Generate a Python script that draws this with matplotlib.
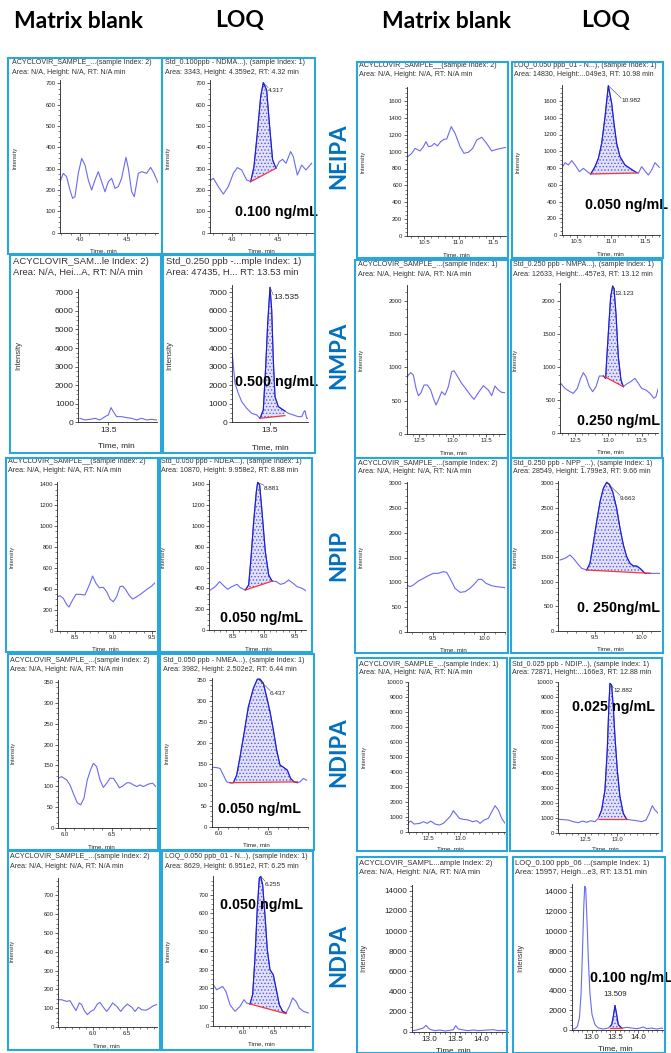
import numpy as np
import matplotlib
matplotlib.use("Agg")
import matplotlib.pyplot as plt
from matplotlib.patches import Rectangle
from matplotlib.ticker import AutoMinorLocator, FormatStrFormatter, FixedLocator

W, H = 671, 1053
plt.rcParams['font.family'] = ['Liberation Sans', 'DejaVu Sans']
plt.rcParams['hatch.linewidth'] = 0.6

# ---------------- headers / labels ----------------
headers = ["Matrix blank", "LOQ", "Matrix blank", "LOQ"]
right_labels = ["NEIPA", "NMPA", "NPIP", "NDIPA", "NDPA"]
left_labels = ["NDMA", "NDBA"]

# ---------------- data (time, min / intensity) ----------------
ndma_blank_t = [3.786, 3.821, 3.857, 3.893, 3.921, 3.946, 3.982, 4.018, 4.054, 4.089, 4.125, 4.161, 4.196, 4.232, 4.268,
                4.304, 4.339, 4.375, 4.411, 4.446, 4.493, 4.518, 4.554, 4.582, 4.625, 4.661, 4.714, 4.757, 4.793, 4.836]
ndma_blank_i = [239, 278, 262, 200, 161, 169, 278, 348, 317, 247, 200, 247, 286, 239, 192,
                239, 255, 208, 216, 255, 353, 302, 192, 169, 278, 286, 278, 306, 278, 234]
ndma_loq_t = [3.772, 3.804, 3.857, 3.911, 3.964, 4.018, 4.061, 4.107, 4.161, 4.204, 4.239, 4.275, 4.311, 4.339,
              4.375, 4.404, 4.439, 4.475, 4.511, 4.546, 4.582, 4.632, 4.661, 4.704, 4.750, 4.796, 4.857]
ndma_loq_i = [245, 255, 216, 181, 216, 278, 305, 294, 247, 239, 309, 466, 638, 703,
              669, 513, 341, 302, 333, 344, 325, 380, 356, 270, 317, 294, 325]

ndba_blank_t = [13.217, 13.267, 13.317, 13.367, 13.417, 13.467, 13.5, 13.527, 13.55, 13.583, 13.633, 13.683,
                13.733, 13.783, 13.833, 13.883, 13.933, 13.983]
ndba_blank_i = [215, 125, 160, 215, 125, 305, 395, 790, 575, 305, 305, 250, 215, 125, 215, 125, 160, 125]
ndba_loq_t = [13.123, 13.15, 13.183, 13.217, 13.267, 13.317, 13.367, 13.4, 13.433, 13.457, 13.477, 13.5, 13.517,
              13.533, 13.55, 13.583, 13.633, 13.683, 13.733, 13.783, 13.817, 13.84, 13.85, 13.867, 13.883]
ndba_loq_i = [3680, 2100, 1560, 1110, 750, 485, 395, 215, 665, 3000, 5330, 7270, 6050,
              3360, 1380, 845, 665, 485, 395, 305, 305, 575, 630, 215, 215]

ndea_blank_t = [8.27, 8.304, 8.348, 8.391, 8.422, 8.457, 8.513, 8.565, 8.63, 8.687, 8.73, 8.774, 8.817, 8.87,
                8.913, 8.957, 9.0, 9.043, 9.087, 9.122, 9.165, 9.209, 9.252, 9.304, 9.37, 9.435, 9.5, 9.543]
ndea_blank_i = [325, 335, 309, 252, 226, 277, 348, 348, 341, 437, 523, 453, 411, 415,
                373, 303, 277, 325, 421, 427, 389, 335, 303, 325, 357, 395, 427, 459]
ndea_loq_t = [8.142, 8.222, 8.291, 8.356, 8.42, 8.489, 8.57, 8.623, 8.703, 8.757, 8.794, 8.837, 8.88, 8.901,
              8.933, 8.971, 9.024, 9.078, 9.131, 9.201, 9.265, 9.329, 9.398, 9.468, 9.532, 9.612, 9.682]
ndea_loq_i = [384, 417, 465, 426, 391, 417, 439, 407, 384, 433, 689, 1041, 1330, 1419,
              1394, 1137, 753, 529, 471, 465, 439, 449, 481, 449, 417, 401, 375]

nmea_blank_t = [5.929, 5.964, 6.018, 6.054, 6.089, 6.132, 6.168, 6.204, 6.239, 6.275, 6.304, 6.339, 6.375, 6.411,
                6.446, 6.482, 6.518, 6.554, 6.582, 6.618, 6.661, 6.696, 6.732, 6.768, 6.804, 6.839, 6.893, 6.939, 6.971]
nmea_blank_i = [119, 123, 115, 103, 83, 60, 55, 71, 115, 140, 155, 147, 115, 97,
                107, 119, 119, 107, 96, 100, 108, 108, 103, 99, 103, 99, 105, 107, 99]
nmea_loq_t = [5.933, 5.983, 6.017, 6.05, 6.083, 6.117, 6.15, 6.183, 6.217, 6.257, 6.3, 6.35, 6.39, 6.417,
              6.45, 6.483, 6.517, 6.55, 6.583, 6.617, 6.65, 6.69, 6.723, 6.757, 6.79, 6.817, 6.85, 6.883]
nmea_loq_i = [142, 141, 139, 123, 107, 105, 105, 123, 167, 223, 286, 330, 352, 352,
              342, 310, 274, 231, 183, 147, 142, 135, 115, 107, 105, 107, 115, 111]

row5_blank_t = [5.495, 5.544, 5.618, 5.667, 5.716, 5.755, 5.804, 5.838, 5.877, 5.922, 5.971, 6.02, 6.069, 6.108,
                6.157, 6.206, 6.245, 6.294, 6.353, 6.412, 6.461, 6.51, 6.574, 6.623, 6.672, 6.721, 6.784, 6.843,
                6.892, 6.941]
row5_blank_i = [145, 145, 136, 140, 110, 87, 128, 119, 87, 66, 83, 92, 122, 131,
                105, 83, 101, 128, 110, 83, 105, 122, 105, 83, 105, 92, 89, 101, 113, 119]
row5_loq_t = [5.511, 5.565, 5.663, 5.717, 5.783, 5.864, 5.946, 6.011, 6.054, 6.109, 6.152, 6.19, 6.228, 6.261,
              6.283, 6.315, 6.353, 6.391, 6.435, 6.489, 6.533, 6.587, 6.641, 6.696, 6.75, 6.804, 6.859, 6.913,
              6.978, 7.06]
row5_loq_i = [219, 192, 210, 183, 112, 77, 103, 139, 121, 116, 166, 362, 629, 789,
              798, 753, 593, 406, 299, 272, 201, 112, 77, 68, 103, 148, 130, 94, 77, 68]

neipa_blank_t = [10.256, 10.315, 10.363, 10.437, 10.485, 10.524, 10.559, 10.607, 10.646, 10.690, 10.739, 10.788,
                 10.827, 10.893, 10.949, 11.022, 11.080, 11.144, 11.207, 11.266, 11.339, 11.41, 11.485, 11.559,
                 11.63, 11.69]
neipa_blank_i = [940, 980, 1039, 1008, 1059, 1118, 1059, 1067, 1098, 1067, 1118, 1146,
                 1150, 1296, 1217, 1059, 980, 992, 1039, 1138, 1170, 1098, 1008, 1027, 1039, 1051]
neipa_loq_t = [10.295, 10.329, 10.378, 10.427, 10.476, 10.539, 10.598, 10.656, 10.705, 10.768, 10.817, 10.866,
               10.915, 10.963, 11.012, 11.046, 11.085, 11.134, 11.207, 11.28, 11.354, 11.402, 11.451, 11.5,
               11.549, 11.598, 11.646, 11.71]
neipa_loq_i = [816, 864, 836, 888, 836, 756, 796, 756, 728, 816, 915, 1095,
               1413, 1783, 1572, 1333, 1095, 935, 836, 796, 756, 736, 816, 764, 716, 776, 864, 808]

nmpa_blank_t = [12.31, 12.335, 12.37, 12.41, 12.45, 12.485, 12.52, 12.57, 12.62, 12.67, 12.71, 12.75, 12.785,
                12.835, 12.885, 12.935, 12.985, 13.02, 13.06, 13.135, 13.21, 13.285, 13.32, 13.385, 13.46,
                13.535, 13.585, 13.635, 13.685, 13.735, 13.785]
nmpa_blank_i = [835, 885, 920, 885, 685, 575, 610, 735, 735, 660, 535, 435, 510,
                635, 585, 710, 935, 950, 885, 760, 660, 560, 520, 620, 725, 660, 575, 720, 660, 625, 620]
nmpa_loq_t = [12.285, 12.35, 12.425, 12.475, 12.535, 12.585, 12.625, 12.665, 12.715, 12.765, 12.815, 12.865,
              12.925, 12.96, 12.975, 13.0, 13.035, 13.065, 13.085, 13.115, 13.15, 13.19, 13.225, 13.275,
              13.335, 13.4, 13.45, 13.5, 13.565, 13.625, 13.685, 13.715, 13.75]
nmpa_loq_i = [754, 678, 628, 603, 678, 829, 915, 854, 703, 628, 703, 864,
              864, 829, 1105, 1507, 2060, 2221, 2186, 1809, 1156, 804, 703, 744, 779, 829, 754, 678, 653, 603,
              528, 553, 678]

npip_blank_t = [9.248, 9.281, 9.313, 9.361, 9.41, 9.458, 9.506, 9.555, 9.603, 9.635, 9.668, 9.716, 9.765,
                9.813, 9.861, 9.91, 9.942, 9.974, 10.016, 10.071, 10.119, 10.2]
npip_blank_i = [944, 910, 944, 1025, 1079, 1133, 1180, 1180, 1214, 1200, 1079, 876, 796,
                809, 876, 978, 1058, 1058, 978, 930, 910, 890]
npip_loq_t = [9.125, 9.179, 9.232, 9.268, 9.311, 9.357, 9.411, 9.446, 9.482, 9.518, 9.554, 9.589, 9.625,
              9.654, 9.689, 9.732, 9.768, 9.804, 9.839, 9.875, 9.911, 9.946, 9.982, 10.036, 10.107, 10.196]
npip_loq_i = [1439, 1473, 1541, 1473, 1371, 1269, 1235, 1371, 1778, 2219, 2626, 2898, 3020,
              2979, 2830, 2491, 2084, 1744, 1507, 1371, 1317, 1317, 1269, 1167, 1167, 1167]

ndipa_blank_t = [12.174, 12.221, 12.274, 12.368, 12.421, 12.484, 12.537, 12.605, 12.674, 12.737, 12.789, 12.842,
                 12.895, 12.937, 12.989, 13.053, 13.132, 13.2, 13.263, 13.316, 13.379, 13.447, 13.516, 13.553,
                 13.605, 13.658, 13.711]
ndipa_blank_i = [558, 714, 513, 558, 670, 558, 714, 513, 446, 558, 781, 1004,
                 1406, 1183, 893, 826, 781, 670, 737, 558, 781, 893, 1451, 1741, 1451, 893, 558]
ndipa_loq_t = [12.103, 12.242, 12.32, 12.397, 12.464, 12.526, 12.588, 12.655, 12.706, 12.758, 12.809, 12.845,
               12.871, 12.887, 12.912, 12.938, 12.964, 13.0, 13.041, 13.093, 13.144, 13.222, 13.299, 13.376,
               13.443, 13.495, 13.541, 13.582, 13.634]
ndipa_loq_i = [887, 842, 732, 665, 776, 687, 798, 732, 953, 1508, 2838, 5498,
               8602, 9932, 9821, 8380, 6385, 4168, 2394, 1286, 887, 842, 798, 732, 842, 1286, 1796, 1508, 1286]

ndpa_blank_t = [12.677, 12.755, 12.819, 12.884, 12.935, 12.981, 13.026, 13.11, 13.206, 13.303, 13.4, 13.465,
                13.51, 13.561, 13.658, 13.755, 13.852, 13.948, 14.045, 14.142, 14.239, 14.335, 14.432, 14.529]
ndpa_blank_i = [132, 198, 297, 396, 660, 396, 231, 132, 198, 99, 165, 231,
                627, 297, 198, 132, 198, 132, 165, 198, 231, 132, 165, 132]
ndpa_loq_t = [12.586, 12.643, 12.693, 12.736, 12.771, 12.8, 12.829, 12.85, 12.871, 12.9, 12.929, 12.964, 13.007,
              13.071, 13.143, 13.25, 13.357, 13.429, 13.464, 13.5, 13.536, 13.571, 13.643, 13.75, 13.857,
              13.964, 14.036, 14.107, 14.179, 14.286, 14.393, 14.5, 14.536]
ndpa_loq_i = [68, 102, 339, 1187, 3560, 7628, 12374, 14577, 14407, 11018, 6950, 3560, 1526,
              509, 170, 68, 170, 509, 1356, 2475, 1526, 509, 170, 237, 170,
              102, 170, 271, 102, 170, 68, 170, 102]

# integration baselines (t0, i0, t1, i1) and apex labels (text, apex t, apex i)
ndma_base = (4.204, 239, 4.475, 302);      ndma_apex = ("4.317", 4.339, 703)
ndba_base = (13.40, 215, 13.65, 360);      ndba_apex = ("13.535", 13.50, 7270)
ndea_base = (8.703, 384, 9.14, 471);       ndea_apex = ("8.881", 8.901, 1419)
nmea_base = (6.117, 105, 6.79, 107);       nmea_apex = ("6.437", 6.40, 352)
row5_base = (6.109, 116, 6.696, 64);       row5_apex = ("6.255", 6.283, 798)
neipa_base = (10.705, 728, 11.38, 740);    neipa_apex = ("10.982", 10.963, 1783)
nmpa_base = (12.925, 864, 13.225, 703);    nmpa_apex = ("13.123", 13.065, 2221)
npip_base = (9.411, 1235, 10.09, 1167);    npip_apex = ("9.663", 9.625, 3020)
ndipa_base = (12.72, 880, 13.15, 875);     ndipa_apex = ("12.882", 12.887, 9932)
ndpa_base = (13.40, 170, 13.64, 170);      ndpa_apex = ("13.509", 13.50, 2475)

conc_texts = ["0.100 ng/mL", "0.500 ng/mL", "0.050 ng/mL", "0.050 ng/mL", "0.050 ng/mL",
              "0.050 ng/mL", "0.250 ng/mL", "0. 250ng/mL", "0.025 ng/mL", "0.100 ng/mL"]

NA1 = "Area: N/A, Height: N/A, RT: N/A min"

fig = plt.figure(figsize=(W / 100, H / 100), dpi=100)


def fx(x):
    return x / W


def fy(y):
    return 1 - y / H


BOX_C = '#2ba6d8'
LINE_C = '#6a6af2'
PEAK_C = '#1c1cd2'

NORMAL = dict(tick=4.3, title=5.1, ylab=4.2, xlab=4.4, lab=4.6)
BIG = dict(tick=6.0, title=6.8, ylab=5.6, xlab=6.0, lab=6.0)
BIGR = dict(tick=5.9, title=5.5, ylab=5.4, xlab=5.8, lab=5.6)


def panel(box, axp, xlim, ymax, xticks, ystep, ytop, t, inten, titles, tpos, ylab, xlab,
          fs=NORMAL, base=None, apex=None, lab_off=None, conc=None, conc_pos=None):
    xl, xr, yz, ytp, tv = axp
    ppu = (yz - ytp) / tv
    ytop_px = yz - ymax * ppu
    ax = fig.add_axes([fx(xl), fy(yz), (xr - xl) / W, (yz - ytop_px) / H])
    ax.patch.set_alpha(0)
    ax.set_xlim(*xlim)
    ax.set_ylim(0, ymax)
    for s in ['top', 'right']:
        ax.spines[s].set_visible(False)
    for s in ['left', 'bottom']:
        ax.spines[s].set_linewidth(0.6)
        ax.spines[s].set_color('#222222')
    ax.xaxis.set_major_locator(FixedLocator(xticks))
    ax.xaxis.set_major_formatter(FormatStrFormatter('%.1f'))
    ax.yaxis.set_major_locator(FixedLocator(list(np.arange(0, ytop + 1, ystep))))
    ax.yaxis.set_major_formatter(FormatStrFormatter('%d'))
    ax.xaxis.set_minor_locator(AutoMinorLocator(5))
    ax.yaxis.set_minor_locator(AutoMinorLocator(4))
    ax.tick_params(which='major', length=2, width=0.5, labelsize=fs['tick'], pad=1.2, colors='#222222')
    ax.tick_params(which='minor', length=1.2, width=0.4, colors='#222222')
    t = np.asarray(t, float)
    inten = np.asarray(inten, float)
    ax.plot(t, inten, color=LINE_C, lw=0.8)
    if base is not None:
        t0, b0, t1, b1 = base
        m = (t > t0) & (t < t1)
        tt = np.concatenate([[t0], t[m], [t1]])
        ii = np.concatenate([[np.interp(t0, t, inten)], inten[m], [np.interp(t1, t, inten)]])
        bb = np.interp(tt, [t0, t1], [b0, b1])
        ax.fill_between(tt, bb, ii, facecolor='#e2e2fb', hatch='.....', edgecolor='#5a5ae6', linewidth=0)
        ax.plot(tt, ii, color=PEAK_C, lw=0.8)
        ax.plot([t0, t1], [b0, b1], color='#f03a3a', lw=0.9)
    if apex is not None:
        txt, at, ai = apex
        if lab_off is None:
            ax.text(at, ai + 0.05 * ymax, txt, fontsize=fs['lab'], ha='center', va='bottom', color='#222222')
        else:
            lt, li = lab_off
            ax.plot([at, lt], [ai, li + 0.02 * ymax], color='#444444', lw=0.4)
            ax.text(lt, li, txt, fontsize=fs['lab'], ha='left', va='center', color='#222222')
    fig.text(fx(tpos[0]), fy(tpos[1]), titles[0], fontsize=fs['title'], va='center', ha='left', color='#333333')
    fig.text(fx(tpos[0]), fy(tpos[2]), titles[1], fontsize=fs['title'], va='center', ha='left', color='#333333')
    fig.text(fx(ylab[0]), fy(ylab[1]), "Intensity", fontsize=fs['ylab'], rotation=90, va='center', ha='center',
             color='#333333')
    fig.text(fx(xlab[0]), fy(xlab[1]), "Time, min", fontsize=fs['xlab'], va='center', ha='center',
             color='#222222')
    if conc is not None:
        fig.text(fx(conc_pos[0]), fy(conc_pos[1]), conc, fontsize=10.3, fontweight='bold', va='center',
                 ha='left', color='black', zorder=20)
    x0, y0, x1, y1 = box
    fig.add_artist(Rectangle((fx(x0), fy(y1)), (x1 - x0) / W, (y1 - y0) / H, transform=fig.transFigure,
                             fill=False, ec=BOX_C, lw=1.5, zorder=30))
    return ax


# ---------------- left block ----------------
panel((8, 58, 162, 254), (60, 158, 232.7, 83.3, 700), (3.786, 4.836), 715, [4.0, 4.5], 100, 700,
      ndma_blank_t, ndma_blank_i,
      ("ACYCLOVIR_SAMPLE_...(sample Index: 2)", NA1), (11.7, 62.7, 72.3), (15, 158), (103, 250.7))
panel((162, 58, 315, 254), (210, 313.3, 232.7, 83.3, 700), (3.768, 4.875), 715, [4.0, 4.5], 100, 700,
      ndma_loq_t, ndma_loq_i,
      ("Std_0.100ppb - NDMA...), (sample Index: 1)", "Area: 3343, Height: 4.359e2, RT: 4.32 min"),
      (165, 62.7, 72.3), (168, 158), (261.7, 250.7),
      base=ndma_base, apex=ndma_apex, lab_off=(4.39, 666), conc=conc_texts[0], conc_pos=(235, 212))

panel((10, 255, 161, 453), (78.3, 156.7, 422.3, 292.3, 7000), (13.2, 13.984), 7200, [13.5], 1000, 7000,
      ndba_blank_t, ndba_blank_i,
      ("ACYCLOVIR_SAM...le Index: 2)", "Area: N/A, Hei...A, RT: N/A min"), (13.3, 261.7, 272.7),
      (18.3, 355), (116.7, 446), fs=BIG)
panel((163, 255, 315, 453), (231.7, 308.3, 422.3, 292.3, 7000), (13.117, 13.883), 7400, [13.5], 1000, 7000,
      ndba_loq_t, ndba_loq_i,
      ("Std_0.250 ppb -...mple Index: 1)", "Area: 47435, H... RT: 13.53 min"), (165.7, 261.7, 272.7),
      (170, 355), (270, 447.3), fs=BIG,
      base=ndba_base, apex=ndba_apex, lab_off=(13.533, 6713), conc=conc_texts[1], conc_pos=(235, 382))

panel((6, 458, 158, 652), (57.3, 155, 630.7, 484.3, 1400), (8.27, 9.543), 1425, [8.5, 9.0, 9.5], 200, 1400,
      ndea_blank_t, ndea_blank_i,
      ("ACYCLOVIR_SAMPLE__(sample Index: 2)", NA1), (8.3, 461.7, 470.7), (11.7, 556.7), (105, 649))
panel((160, 458, 312, 652), (209.3, 306, 630, 484.3, 1400), (8.126, 9.676), 1440, [8.5, 9.0, 9.5], 200, 1400,
      ndea_loq_t, ndea_loq_i,
      ("Std_0.050 ppb - NDEA...), (sample Index: 1)", "Area: 10870, Height: 9.958e2, RT: 8.88 min"),
      (161, 461.7, 470.7), (163.3, 556.7), (258.3, 648.3),
      base=ndea_base, apex=ndea_apex, lab_off=(9.0, 1362), conc=conc_texts[2], conc_pos=(220, 618))

panel((8, 654, 158, 850), (58.3, 155.7, 827.7, 682.3, 350), (5.929, 6.971), 356, [6.0, 6.5], 50, 350,
      nmea_blank_t, nmea_blank_i,
      ("ACYCLOVIR_SAMPLE_...(sample Index: 2)", NA1), (10, 661, 669.3), (13.3, 753.3), (101.7, 846.7))
panel((160, 654, 314, 850), (211.7, 308.3, 826.7, 680, 350), (5.933, 6.9), 354, [6.0, 6.5], 50, 350,
      nmea_loq_t, nmea_loq_i,
      ("Std_0.050 ppb - NMEA...), (sample Index: 1)", "Area: 3982, Height: 2.502e2, RT: 6.44 min"),
      (163.3, 661, 669.3), (166.7, 753.3), (256.7, 845),
      base=nmea_base, apex=nmea_apex, lab_off=(6.517, 318), conc=conc_texts[3], conc_pos=(218, 809))

panel((8, 851, 160, 1050), (58.3, 156.7, 1027, 895.3, 700), (5.495, 6.941), 792, [6.0, 6.5], 100, 700,
      row5_blank_t, row5_blank_i,
      ("ACYCLOVIR_SAMPLE_...(sample Index: 2)", NA1), (10, 857, 866.3), (11.7, 951.3), (106.7, 1045.3))
panel((162, 851, 313, 1050), (213.3, 310, 1025.7, 894.7, 700), (5.511, 7.087), 798, [6.0, 6.5], 100, 700,
      row5_loq_t, row5_loq_i,
      ("LOQ_0.050 ppb_01 - N...), (sample Index: 1)", "Area: 8629, Height: 6.951e2, RT: 6.25 min"),
      (165, 857, 866.3), (168.3, 951.3), (261.7, 1043.7),
      base=row5_base, apex=row5_apex, lab_off=(6.353, 757), conc=conc_texts[4], conc_pos=(220, 905))

# ---------------- right block ----------------
panel((357, 62, 508, 258), (406.7, 505.7, 236, 101, 1600), (10.241, 11.69), 1770, [10.5, 11.0, 11.5], 200, 1600,
      neipa_blank_t, neipa_blank_i,
      ("ACYCLOVIR_SAMPLE__(sample Index: 2)", NA1), (359.3, 65.7, 74.7), (362.7, 161.7), (456.7, 254.3))
panel((512, 62, 663, 258), (561.7, 660, 235, 101, 1600), (10.28, 11.72), 1790, [10.5, 11.0, 11.5], 200, 1600,
      neipa_loq_t, neipa_loq_i,
      ("LOQ_0.050 ppb_01 - N...), (sample Index: 1)", "Area: 14830, Height:...049e3, RT: 10.98 min"),
      (514, 65.7, 74.7), (517.7, 161.7), (610, 253.3),
      base=neipa_base, apex=neipa_apex, lab_off=(11.15, 1600), conc=conc_texts[5], conc_pos=(585, 205))

panel((355, 260, 508, 458), (406.7, 505, 434, 300.7, 2000), (12.31, 13.785), 2235, [12.5, 13.0, 13.5], 500, 2000,
      nmpa_blank_t, nmpa_blank_i,
      ("ACYCLOVIR_SAMPLE_...(sample Index: 1)", NA1), (358.3, 265, 274), (360.7, 360), (453.3, 452.3))
panel((511, 260, 662, 458), (560, 658.3, 433.3, 300.7, 2000), (12.275, 13.75), 2260, [12.5, 13.0, 13.5], 500, 2000,
      nmpa_loq_t, nmpa_loq_i,
      ("Std_0.250 ppb - NMPA...), (sample Index: 1)", "Area: 12633, Height:...457e3, RT: 13.12 min"),
      (513.3, 265, 274), (515, 360), (610, 451.7),
      base=nmpa_base, apex=nmpa_apex, lab_off=(13.10, 2110), conc=conc_texts[6], conc_pos=(577, 421))

panel((355, 458, 508, 653), (406.7, 505, 631.7, 483.3, 3000), (9.248, 10.2), 3030, [9.5, 10.0], 500, 3000,
      npip_blank_t, npip_blank_i,
      ("ACYCLOVIR_SAMPLE_...(sample Index: 2)", NA1), (358.3, 463.3, 471.7), (360.7, 556.7), (453.3, 649.3))
panel((511, 458, 663, 653), (558.3, 660, 630.7, 483.3, 3000), (9.107, 10.196), 3050, [9.5, 10.0], 500, 3000,
      npip_loq_t, npip_loq_i,
      ("Std_0.250 ppb - NPP_...), (sample Index: 1)", "Area: 28549, Height: 1.799e3, RT: 9.66 min"),
      (513.3, 463.3, 471.7), (515, 556.7), (610, 648.3),
      base=npip_base, apex=npip_apex, lab_off=(9.768, 2694), conc=conc_texts[7], conc_pos=(577, 608))

panel((357, 658, 507, 851), (407.7, 505, 831.7, 682.3, 10000), (12.174, 13.71), 10045, [12.5, 13.0], 1000, 10000,
      ndipa_blank_t, ndipa_blank_i,
      ("ACYCLOVIR_SAMPLE_...(sample Index: 1)", NA1), (359.3, 664, 672.3), (364, 756.7), (450, 848.3))
panel((510, 658, 662, 851), (558.3, 658.3, 832.7, 682.3, 10000), (12.088, 13.634), 10040, [12.5, 13.0], 1000, 10000,
      ndipa_loq_t, ndipa_loq_i,
      ("Std_0.025 ppb - NDIP...), (sample Index: 1)", "Area: 72871, Height:...166e3, RT: 12.88 min"),
      (511.7, 664, 672.3), (515, 756.7), (605, 849),
      base=ndipa_base, apex=ndipa_apex, lab_off=(12.938, 9444), conc=conc_texts[8], conc_pos=(572, 707))

panel((357, 857, 507, 1053), (411.7, 508.3, 1032, 890.7, 14000), (12.658, 14.529), 14530, [13.0, 13.5, 14.0], 2000,
      14000, ndpa_blank_t, ndpa_blank_i,
      ("ACYCLOVIR_SAMPL...ample Index: 2)", NA1), (359.3, 863.7, 872.3), (363.3, 958), (453.3, 1050.3), fs=BIGR)
panel((513, 857, 665, 1053), (571.7, 663.3, 1029.7, 892, 14000), (12.571, 14.536), 14800, [13.0, 13.5, 14.0], 2000,
      14000, ndpa_loq_t, ndpa_loq_i,
      ("LOQ_0.100 ppb_06 ...(sample Index: 1)", "Area: 15957, Heigh...e3, RT: 13.51 min"),
      (515, 863.7, 872.3), (521, 958), (615, 1048.7), fs=BIGR,
      base=ndpa_base, apex=ndpa_apex, lab_off=None, conc=conc_texts[9], conc_pos=(590, 978))

# ---------------- headers and row labels ----------------
hdr_x = [78, 240, 447, 606]
for txt, x in zip(headers, hdr_x):
    fig.text(fx(x), fy(21), txt, fontsize=16.5, fontweight='bold', family=['Lato', 'DejaVu Sans'],
             ha='center', va='center', color='black')

right_y = [156, 355, 555, 752, 955]
for txt, y in zip(right_labels, right_y):
    fig.text(fx(339), fy(y), txt, fontsize=16, fontweight='bold', family=['Lato', 'DejaVu Sans'],
             rotation=90, ha='center', va='center', color='#0070C0')

left_y = [150, 345]
for txt, y in zip(left_labels, left_y):
    fig.text(fx(-7), fy(y), txt, fontsize=16, fontweight='bold', family=['Lato', 'DejaVu Sans'],
             rotation=90, ha='center', va='center', color='#0070C0')

fig.savefig("out.png", dpi=100)
